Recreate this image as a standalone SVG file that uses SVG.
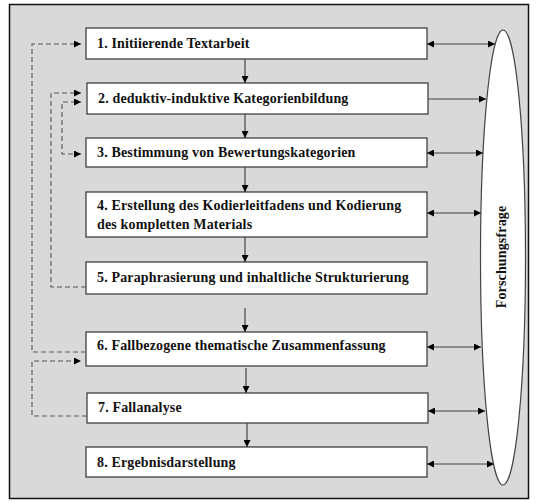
<svg xmlns="http://www.w3.org/2000/svg" width="537" height="503" viewBox="0 0 537 503">
<style>
.box{fill:#fff;stroke:#333;stroke-width:1.2}
.t{font-family:"Liberation Serif","Times New Roman",serif;font-weight:bold;font-size:14px;letter-spacing:0.15px;fill:#111}
.c{fill:none;stroke:#444;stroke-width:1.2}
.d{fill:none;stroke:#555;stroke-width:1.1;stroke-dasharray:5,3}
</style>
<defs>
<marker id="a" viewBox="0 0 10 10" refX="10" refY="5" markerWidth="7" markerHeight="7" markerUnits="userSpaceOnUse" orient="auto-start-reverse"><path d="M0,0L10,5L0,10z" fill="#000"/></marker>
</defs>
<rect x="9.5" y="4.5" width="519" height="494" fill="#d9d9d9" stroke="#111" stroke-width="1.5"/>
<g id="ellipse"><ellipse cx="503" cy="257.5" rx="22.5" ry="227.5" fill="#fff" stroke="#444" stroke-width="1.2"/>
<text class="t" transform="translate(506,257) rotate(-90)" text-anchor="middle">Forschungsfrage</text></g>
<g id="n1"><rect class="box" x="86" y="28" width="341" height="31"/><text class="t" x="97" y="48">1. Initiierende Textarbeit</text></g>
<g id="n2"><rect class="box" x="87" y="83" width="341" height="31"/><text class="t" x="98" y="103">2. deduktiv-induktive Kategorienbildung</text></g>
<g id="n3"><rect class="box" x="86" y="138" width="341" height="29"/><text class="t" x="97" y="157">3. Bestimmung von Bewertungskategorien</text></g>
<g id="n4"><rect class="box" x="86" y="192" width="341" height="45"/><text class="t" x="97" y="210">4. Erstellung des Kodierleitfadens und Kodierung</text><text class="t" x="97" y="229">des kompletten Materials</text></g>
<g id="n5"><rect class="box" x="86" y="262" width="341" height="32"/><text class="t" x="97" y="282">5. Paraphrasierung und inhaltliche Strukturierung</text></g>
<g id="n6"><rect class="box" x="86" y="332" width="341" height="34"/><text class="t" x="97" y="350">6. Fallbezogene thematische Zusammenfassung</text></g>
<g id="n7"><rect class="box" x="87" y="393" width="341" height="30"/><text class="t" x="98" y="412">7. Fallanalyse</text></g>
<g id="n8"><rect class="box" x="86" y="447" width="341" height="30"/><text class="t" x="97" y="467">8. Ergebnisdarstellung</text></g>
<g id="connectors">
<path class="c" d="M245,59V83" marker-end="url(#a)"/>
<path class="c" d="M245,114V138" marker-end="url(#a)"/>
<path class="c" d="M245,167V192" marker-end="url(#a)"/>
<path class="c" d="M245,237V262" marker-end="url(#a)"/>
<path class="c" d="M245,308V332" marker-end="url(#a)"/>
<path class="c" d="M246,368V393" marker-end="url(#a)"/>
<path class="c" d="M247,423V447" marker-end="url(#a)"/>
<path class="c" d="M427,44H495" marker-start="url(#a)" marker-end="url(#a)"/>
<path class="c" d="M428,99H486" marker-end="url(#a)"/>
<path class="c" d="M427,153H483" marker-start="url(#a)" marker-end="url(#a)"/>
<path class="c" d="M427,213H481" marker-start="url(#a)" marker-end="url(#a)"/>
<path class="c" d="M427,347H481" marker-start="url(#a)" marker-end="url(#a)"/>
<path class="c" d="M428,411H485" marker-start="url(#a)" marker-end="url(#a)"/>
<path class="c" d="M427,464H494" marker-start="url(#a)" marker-end="url(#a)"/>
<path class="d" d="M86,352H32V44H81" marker-end="url(#a)"/>
<path class="d" d="M86,287H51V93H81" marker-end="url(#a)"/>
<path class="d" d="M81,154H62V102H81" marker-start="url(#a)" marker-end="url(#a)"/>
<path class="d" d="M87,416H32V361H81" marker-end="url(#a)"/>
</g>
</svg>
